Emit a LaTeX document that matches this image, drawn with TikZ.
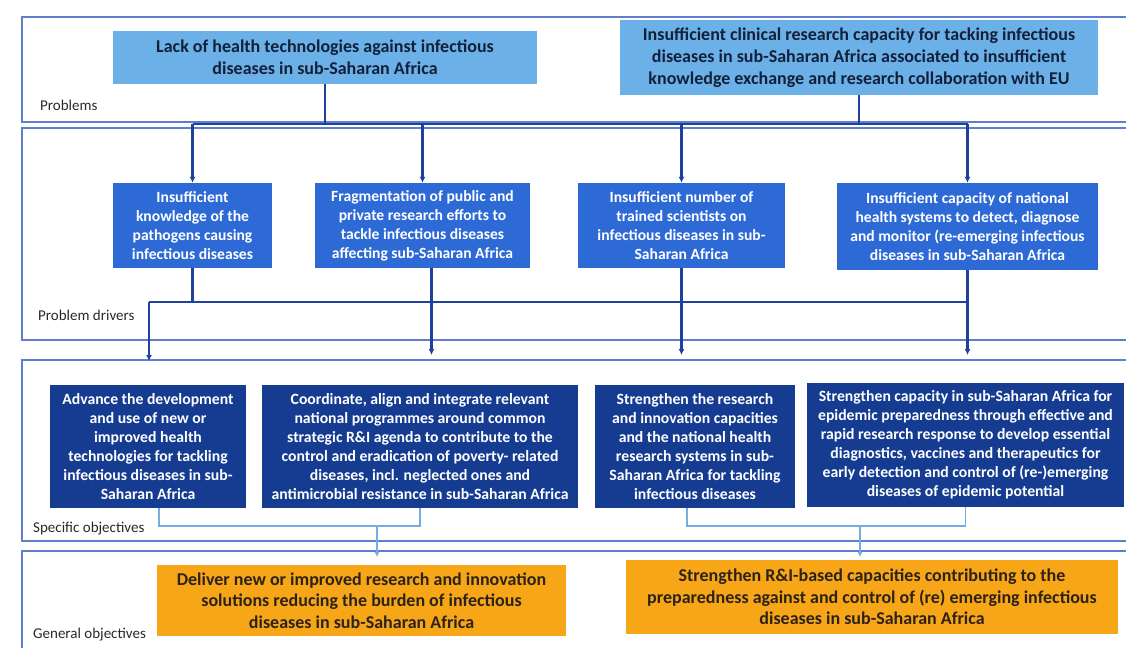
\documentclass[tikz,border=0pt]{standalone}
\usepackage{fontspec}
\setmainfont{Carlito}
\usetikzlibrary{arrows.meta}
\usetikzlibrary{calc}

\definecolor{probfill}{RGB}{108,176,232}
\definecolor{drivfill}{RGB}{46,106,214}
\definecolor{specfill}{RGB}{22,60,146}
\definecolor{genfill}{RGB}{246,166,22}
\definecolor{framecol}{RGB}{96,126,206}
\definecolor{linkcol}{RGB}{30,66,156}
\definecolor{lightlink}{RGB}{118,172,226}
\definecolor{probtext}{RGB}{18,32,58}
\definecolor{gentext}{RGB}{44,34,24}
\definecolor{labeltext}{RGB}{40,40,40}

\begin{document}
\begin{tikzpicture}[x=1pt, y=-1pt,
    frame/.style={draw=framecol, line width=1.1pt},
    probbox/.style={fill=probfill, text=probtext, font=\fontsize{18}{22}\selectfont\bfseries, align=center, inner sep=0pt},
    drivbox/.style={fill=drivfill, text=white, font=\fontsize{15.6}{19}\selectfont\bfseries, align=center, inner sep=0pt},
    specbox/.style={fill=specfill, text=white, font=\fontsize{15.7}{19}\selectfont\bfseries, align=center, inner sep=0pt},
    genbox/.style={fill=genfill, text=gentext, font=\fontsize{18}{21.5}\selectfont\bfseries, align=center, inner sep=0pt},
    rowlabel/.style={anchor=west, text=labeltext, font=\fontsize{15}{18}\selectfont, inner sep=0pt},
    link/.style={draw=linkcol, line width=2.2pt},
    arrowlink/.style={link, -{Latex[length=6pt, width=6pt]}},
    softlink/.style={draw=lightlink, line width=1.6pt},
    softarrow/.style={softlink, -{Latex[length=5pt, width=5pt]}}]
      \useasboundingbox (0,0) rectangle (1126,648);

      \draw[frame] (1126,17) -- (22,17) -- (22,122) -- (1126,122);
      \draw[frame] (1126,128) -- (22,128) -- (22,340) -- (1126,340);
      \draw[frame] (1126,360) -- (22,360) -- (22,541) -- (1126,541);
      \draw[frame] (1126,551) -- (22,551) -- (22,648);

      \node[rowlabel] (lprob) at (40,105) {Problems};
      \node[rowlabel] (ldriv) at (38,315) {Problem drivers};
      \node[rowlabel] (lspec) at (33,529) {Specific objectives};
      \node[rowlabel] (lgen) at (33,635) {General objectives};

      \node[probbox, minimum width=424pt, minimum height=53pt] (P1) at (325,57.5) {Lack of health technologies against infectious\\diseases in sub-Saharan Africa};
      \node[probbox, minimum width=478pt, minimum height=75pt] (P2) at (859,57.5) {Insufficient clinical research capacity for tacking infectious\\diseases in sub-Saharan Africa associated to insufficient\\knowledge exchange and research collaboration with EU};

      \node[drivbox, minimum width=159pt, minimum height=85pt] (D1) at (192.5,225.5) {Insufficient\\knowledge of the\\pathogens causing\\infectious diseases};
      \node[drivbox, minimum width=215pt, minimum height=85pt] (D2) at (422.5,225.5) {Fragmentation of public and\\private research efforts to\\tackle infectious diseases\\affecting sub-Saharan Africa};
      \node[drivbox, minimum width=207pt, minimum height=85pt] (D3) at (681.5,225.5) {Insufficient number of\\trained scientists on\\infectious diseases in sub-\\Saharan Africa};
      \node[drivbox, minimum width=261pt, minimum height=87pt] (D4) at (967.5,226.5) {Insufficient capacity of national\\health systems to detect, diagnose\\and monitor (re-emerging infectious\\diseases in sub-Saharan Africa};

      \node[specbox, minimum width=196pt, minimum height=123pt] (S1) at (148,446.5) {Advance the development\\and use of new or\\improved health\\technologies for tackling\\infectious diseases in sub-\\Saharan Africa};
      \node[specbox, minimum width=316pt, minimum height=123pt] (S2) at (420,446.5) {Coordinate, align and integrate relevant\\national programmes around common\\strategic R\&I agenda to contribute to the\\control and eradication of poverty- related\\diseases, incl. neglected ones and\\antimicrobial resistance in sub-Saharan Africa};
      \node[specbox, minimum width=200pt, minimum height=123pt] (S3) at (695,446.5) {Strengthen the research\\and innovation capacities\\and the national health\\research systems in sub-\\Saharan Africa for tackling\\infectious diseases};
      \node[specbox, minimum width=317pt, minimum height=124pt] (S4) at (965.5,445) {Strengthen capacity in sub-Saharan Africa for\\epidemic preparedness through effective and\\rapid research response to develop essential\\diagnostics, vaccines and therapeutics for\\early detection and control of (re-)emerging\\diseases of epidemic potential};

      \node[genbox, minimum width=409pt, minimum height=71pt] (G1) at (361.5,600.5) {Deliver new or improved research and innovation\\solutions reducing the burden of infectious\\diseases in sub-Saharan Africa};
      \node[genbox, minimum width=492pt, minimum height=74pt] (G2) at (872,597) {Strengthen R\&I-based capacities contributing to the\\preparedness against and control of (re) emerging infectious\\diseases in sub-Saharan Africa};

      \coordinate (bus) at (0,124);
      \coordinate (drvbus) at (149,302);
      \coordinate (specTop) at (0,355);
      \coordinate (specEdge) at (0,361);
      \coordinate (objbus) at (0,526);
      \coordinate (genTop) at (0,557);
      \coordinate (g1in) at (377,526);
      \coordinate (g2in) at (860,526);

      \draw[link] (P1.south) -- (P1.south |- bus);
      \draw[link] (P2.south) -- (P2.south |- bus);
      \draw[link] (D1.north |- bus) -- (D4.north |- bus);
      \foreach \d in {D1,D2,D3,D4}
        \draw[arrowlink] (\d.north |- bus) -- (\d.north);

      \draw[link] (D1.south) -- (D1.south |- drvbus);
      \draw[link] (drvbus) -- (D4.south |- drvbus);
      \draw[arrowlink] (drvbus) -- (drvbus |- specEdge);
      \draw[arrowlink] ([xshift=9pt]D2.south) -- ([xshift=9pt]D2.south |- specTop);
      \draw[arrowlink] (D3.south) -- (D3.south |- specTop);
      \draw[arrowlink] (D4.south) -- (D4.south |- specTop);

      \draw[softlink] ([xshift=11pt]S1.south) |- (S2.south |- objbus) -- (S2.south);
      \draw[softlink] ([xshift=-8pt]S3.south) |- (S4.south |- objbus) -- (S4.south);
      \draw[softarrow] (g1in) -- (g1in |- genTop);
      \draw[softarrow] (g2in) -- (g2in |- genTop);
    \end{tikzpicture}
\end{document}
